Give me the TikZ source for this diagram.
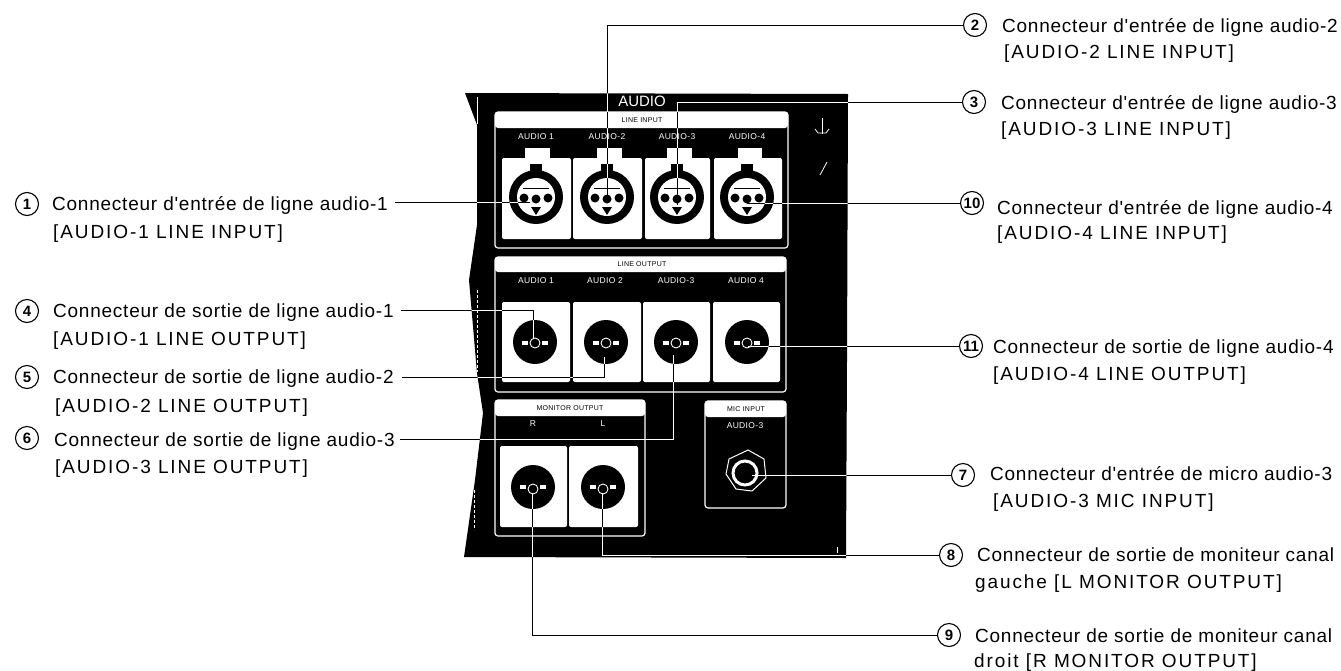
\documentclass[tikz,border=0pt]{standalone}
\usepackage{fontspec}
\setmainfont{Liberation Sans}
\newfontfamily\lowfont[LetterSpace=4]{Liberation Sans}
\newfontfamily\upfont[LetterSpace=10]{Liberation Sans}
\newfontfamily\tinyfont[LetterSpace=4]{Liberation Sans}
\tikzset{
  x=1pt,y=-1pt,
  leader/.style={draw=black,line width=1pt},
  leaderw/.style={draw=white,line width=1pt},
  lbla/.style={anchor=base west,inner sep=0pt,font=\fontsize{19}{19}\lowfont},
  lblb/.style={anchor=base west,inner sep=0pt,font=\fontsize{19}{19}\upfont},
  num/.style={circle,draw=black,line width=1.1pt,inner sep=0pt,minimum size=23pt,font=\fontsize{15}{15}\bfseries},
  face/.style={fill=white,rounded corners=2pt},
  sect/.style={draw=white,line width=1.2pt,rounded corners=3pt},
  small/.style={text=white,inner sep=0pt,font=\fontsize{8.5}{8.5}\tinyfont},
  dark/.style={text=black,inner sep=0pt,font=\fontsize{7}{7}\tinyfont},
}
\newcommand\labelpair[7]{%
  \node[lbla] (#1a) at (#2,#3) {#4};
  \node[lblb] (#1b) at (#5,#6) {#7};
}
\begin{document}
\begin{tikzpicture}
\useasboundingbox (0,0) rectangle (1341,670);
\newcommand\panelshape{(465,93) -- (848,94) -- (847,360) -- (846,558) -- (464,557) -- (475,480) -- (483,413) -- (477,373) -- (469,280) -- (477,225) -- (477,125) -- cycle}
\fill[black] \panelshape;
\draw[white,line width=.8pt] (477,97) -- (477,124);
\draw[white,line width=.8pt,dash pattern=on 3pt off 2pt] (477,290) -- (477,372);
\draw[white,line width=.8pt,dash pattern=on 3pt off 2pt] (474,490) -- (474,530);
\node[text=white,inner sep=0pt,font=\fontsize{15}{15}\selectfont] (title) at (642,101) {AUDIO};
% sections
\fill[white,rounded corners=3pt] (495,112) rectangle (788,128);
\draw[sect] (495,112) rectangle (788,248);
\fill[white,rounded corners=3pt] (495,257) rectangle (786,272);
\draw[sect] (495,257) rectangle (786,392);
\fill[white,rounded corners=3pt] (495,400) rectangle (645,416);
\draw[sect] (495,400) rectangle (645,536);
\fill[white,rounded corners=3pt] (705,401) rectangle (786,417);
\draw[sect] (705,401) rectangle (786,508);
\node[dark] (t1) at (642,120) {LINE INPUT};
\node[dark] (t2) at (642,264) {LINE OUTPUT};
\node[dark] (t3) at (570,408) {MONITOR OUTPUT};
\node[dark] (t4) at (746,409) {MIC INPUT};
% column labels
\node[small] (ina) at (536,137) {AUDIO 1};
\node[small] (inb) at (607,137) {AUDIO-2};
\node[small] (inc) at (677,137) {AUDIO-3};
\node[small] (ind) at (747,137) {AUDIO-4};
\node[small] (outa) at (536,281) {AUDIO 1};
\node[small] (outb) at (605,281) {AUDIO 2};
\node[small] (outc) at (676,281) {AUDIO-3};
\node[small] (outd) at (746,281) {AUDIO 4};
% tabs
\foreach \a/\b in {525/550,597/622,667/692,738/762}{
  \fill[white] (\a,148) rectangle (\b,159);
}
% input connectors
\foreach \a/\b/\c in {502/571/536,573/642/607,645/710/677,714/782/747}{
  \fill[face] (\a,158) rectangle (\b,239);
  \fill[black] (\c-6,164) rectangle (\c+6,178);
  \fill[black] (\c,197) circle (27);
  \fill[white] (\c,197) circle (19);
  \fill[black] (\c,199) circle (4.5);
  \fill[black] (\c-12,198) circle (4.5);
  \fill[black] (\c+12,198) circle (4.5);
  \fill[black] (\c-5,207) -- (\c+5,207) -- (\c,215) -- cycle;
  \draw[black,line width=1pt] (\c-13,188) -- (\c+13,188);
}
% output connectors
\foreach \a/\b/\c in {502/570/535,573/641/606,643/710/676,713/780/747}{
  \fill[face] (\a,302) rectangle (\b,382);
  \fill[black] (\c,342) circle (22);
  \fill[white] (\c-13,341) rectangle (\c-7,345);
  \fill[white] (\c+7,341) rectangle (\c+13,345);
  \draw[white,line width=.9pt] (\c,343) circle (5);
}
\node[small] (mr) at (533,424) {R};
\node[small] (ml) at (603,424) {L};
\node[small] (mic) at (745,426) {AUDIO-3};
\foreach \a/\b/\c in {500/567/533,569/638/603}{
  \fill[face] (\a,446) rectangle (\b,527);
  \fill[black] (\c,487) circle (22);
  \fill[white] (\c-13,485) rectangle (\c-7,489);
  \fill[white] (\c+7,485) rectangle (\c+13,489);
  \draw[white,line width=.9pt] (\c,489) circle (5);
}
% jack
\draw[white,line width=1pt] (748,450) -- (764,459) -- (766,478) -- (752,491) -- (736,489) -- (726,474) -- (729,459) -- cycle;
\draw[white,line width=3pt] (745,473) circle (12);
% small marks
\draw[white,line width=.8pt] (822,118) -- (822,134);
\draw[white,line width=.8pt] (815,129) -- (818,133) -- (826,133) -- (829,129);
\draw[white,line width=.8pt] (827,162) -- (820,175);
\draw[white,line width=.8pt] (837,547) -- (837,553);
% labels
\node[num] (n1) at (27,204) {1};
\labelpair{l1}{52}{210}{Connecteur d'entrée de ligne audio-1}{53}{238}{[AUDIO-1 LINE INPUT]}
\node[num] (n4) at (27,311) {4};
\labelpair{l4}{53}{317}{Connecteur de sortie de ligne audio-1}{53}{345}{[AUDIO-1 LINE OUTPUT]}
\node[num] (n5) at (27,377) {5};
\labelpair{l5}{53}{383}{Connecteur de sortie de ligne audio-2}{55}{412}{[AUDIO-2 LINE OUTPUT]}
\node[num] (n6) at (27,438) {6};
\labelpair{l6}{54}{446}{Connecteur de sortie de ligne audio-3}{55}{473}{[AUDIO-3 LINE OUTPUT]}
\node[num] (n2) at (975,25) {2};
\labelpair{l2}{1002}{32}{Connecteur d'entrée de ligne audio-2}{1004}{58}{[AUDIO-2 LINE INPUT]}
\node[num] (n3) at (974,102) {3};
\labelpair{l3}{1001}{109}{Connecteur d'entrée de ligne audio-3}{1001}{135}{[AUDIO-3 LINE INPUT]}
\node[num] (n10) at (972,203) {10};
\labelpair{l10}{997}{214}{Connecteur d'entrée de ligne audio-4}{997}{239}{[AUDIO-4 LINE INPUT]}
\node[num] (n11) at (971,346) {11};
\labelpair{l11}{993}{353}{Connecteur de sortie de ligne audio-4}{993}{380}{[AUDIO-4 LINE OUTPUT]}
\node[num] (n7) at (963,475) {7};
\labelpair{l7}{990}{480}{Connecteur d'entrée de micro audio-3}{993}{507}{[AUDIO-3 MIC INPUT]}
\node[num] (n8) at (951,555) {8};
\labelpair{l8}{977}{561}{Connecteur de sortie de moniteur canal}{975}{588}{gauche [L MONITOR OUTPUT]}
\node[num] (n9) at (949,635) {9};
\labelpair{l9}{975}{642}{Connecteur de sortie de moniteur canal}{974}{667}{droit [R MONITOR OUTPUT]}
% leader anchors
\coordinate (p1) at (530,202);
\coordinate (p2) at (607,197);
\coordinate (c2) at (607,25);
\coordinate (p3) at (677,205);
\coordinate (c3) at (677,102);
\coordinate (p10) at (747,203);
\coordinate (p4) at (533,338);
\coordinate (c4) at (533,310);
\coordinate (p5) at (604,357);
\coordinate (c5) at (604,377);
\coordinate (p6) at (673,355);
\coordinate (c6) at (673,439);
\coordinate (p11) at (748,346);
\coordinate (p7) at (752,475);
\coordinate (p8) at (602,493);
\coordinate (c8) at (602,555);
\coordinate (p9) at (532,493);
\coordinate (c9) at (532,635);
\newcommand\allleaders[1]{%
  \draw[#1] ([xshift=7]l1a.east |- p1) -- (p1);
  \draw[#1] ([xshift=7]l4a.east |- c4) -- (c4) -- (p4);
  \draw[#1] ([xshift=8]l5a.east |- c5) -- (c5) -- (p5);
  \draw[#1] ([xshift=5]l6a.east |- c6) -- (c6) -- (p6);
  \draw[#1] (n2.west) -- (c2) -- (p2);
  \draw[#1] (n3.west) -- (c3) -- (p3);
  \draw[#1] (n10.west) -- (p10);
  \draw[#1] (n11.west) -- (p11);
  \draw[#1] (n7.west) -- (p7);
  \draw[#1] (n8.west) -- (c8) -- (p8);
  \draw[#1] (n9.west) -- (c9) -- (p9);
}
\allleaders{leader}
\begin{scope}
  \clip \panelshape;
  \allleaders{leaderw}
\end{scope}
\begin{scope}
  \clip (495,112) rectangle (788,128)
        (495,257) rectangle (786,272)
        (597,148) rectangle (622,159)
        (667,148) rectangle (692,159)
        (502,158) rectangle (571,239)
        (573,158) rectangle (642,239)
        (645,158) rectangle (710,239)
        (714,158) rectangle (782,239)
        (502,302) rectangle (570,382)
        (573,302) rectangle (641,382)
        (643,302) rectangle (710,382)
        (713,302) rectangle (780,382)
        (500,446) rectangle (567,527)
        (569,446) rectangle (638,527);
  \allleaders{leader}
\end{scope}
\begin{scope}
  \clip (535,342) circle (22) (606,342) circle (22) (676,342) circle (22) (747,343) circle (22)
        (533,487) circle (22) (603,487) circle (22)
        (601,164) rectangle (613,178) (671,164) rectangle (683,178);
  \allleaders{leaderw}
\end{scope}
\foreach \c in {536,607,677,747}{
  \begin{scope}[even odd rule]
    \clip (\c,197) circle (27) (\c,197) circle (19);
    \allleaders{leaderw}
  \end{scope}
}
\end{tikzpicture}
\end{document}
